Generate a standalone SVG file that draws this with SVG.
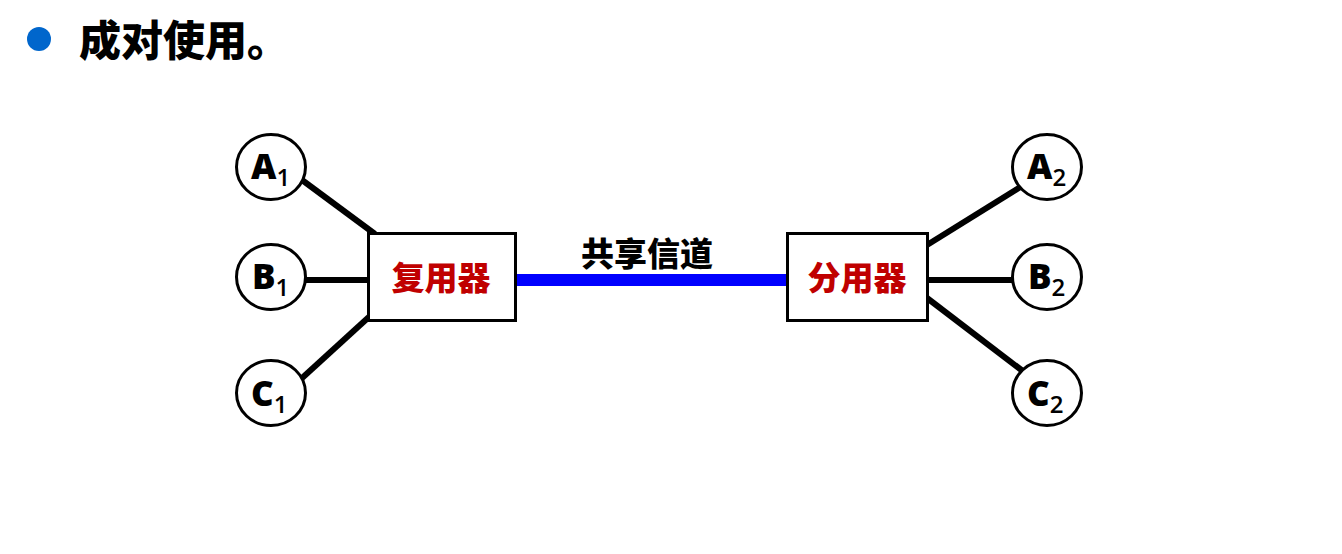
<svg xmlns="http://www.w3.org/2000/svg" width="1342" height="554" viewBox="0 0 1342 554">
<style>
text{font-family:"Open Sans","Noto Sans CJK SC",sans-serif;font-weight:800}
.c{font-family:"Noto Sans CJK SC",sans-serif;font-weight:900}
.n{fill:#fff;stroke:#000;stroke-width:3}
.l{stroke:#000;stroke-width:6;fill:none}
.t{font-size:35px;fill:#000}
.s{font-size:24px;font-weight:600}
.r{font-size:33px;fill:#c00000;text-anchor:middle}
</style>
<rect width="1342" height="554" fill="#fff"/>
<circle cx="39" cy="39" r="12" fill="#0066cc"/>
<text class="c" x="79" y="56" font-size="42" fill="#000">成对使用。</text>
<g id="connectors">
<line class="l" x1="302" y1="180" x2="375" y2="234"/>
<line class="l" x1="304" y1="280" x2="369" y2="280"/>
<line class="l" x1="301" y1="379" x2="370" y2="316"/>
<line style="stroke:#0000ff;stroke-width:12" x1="516" y1="280" x2="787" y2="280"/>
<line class="l" x1="927" y1="245" x2="1022" y2="186"/>
<line class="l" x1="927" y1="280" x2="1014" y2="280"/>
<line class="l" x1="927" y1="298" x2="1024" y2="372"/>
</g>
<g id="A1"><ellipse class="n" cx="271" cy="167" rx="34.500" ry="32.500"/><text class="t" x="251" y="179">A<tspan class="s" dy="7">1</tspan></text></g>
<g id="B1"><ellipse class="n" cx="271" cy="277" rx="34.500" ry="32.500"/><text class="t" x="252" y="289">B<tspan class="s" dy="7">1</tspan></text></g>
<g id="C1"><ellipse class="n" cx="271" cy="393" rx="34.500" ry="32.500"/><text class="t" x="251" y="406">C<tspan class="s" dy="7">1</tspan></text></g>
<g id="A2"><ellipse class="n" cx="1047" cy="167" rx="34.500" ry="32.500"/><text class="t" x="1027" y="179">A<tspan class="s" dy="7">2</tspan></text></g>
<g id="B2"><ellipse class="n" cx="1047" cy="277" rx="34.500" ry="32.500"/><text class="t" x="1028" y="289">B<tspan class="s" dy="7">2</tspan></text></g>
<g id="C2"><ellipse class="n" cx="1047" cy="393" rx="34.500" ry="32.500"/><text class="t" x="1027" y="406">C<tspan class="s" dy="7">2</tspan></text></g>
<g id="mux"><rect class="n" x="368.500" y="233.500" width="147" height="87"/><text class="r c" x="441" y="290">复用器</text></g>
<g id="demux"><rect class="n" x="787.500" y="233.500" width="140" height="87"/><text class="r c" x="857" y="290">分用器</text></g>
<text class="c" x="647" y="266" font-size="33" text-anchor="middle" fill="#000">共享信道</text>
</svg>
